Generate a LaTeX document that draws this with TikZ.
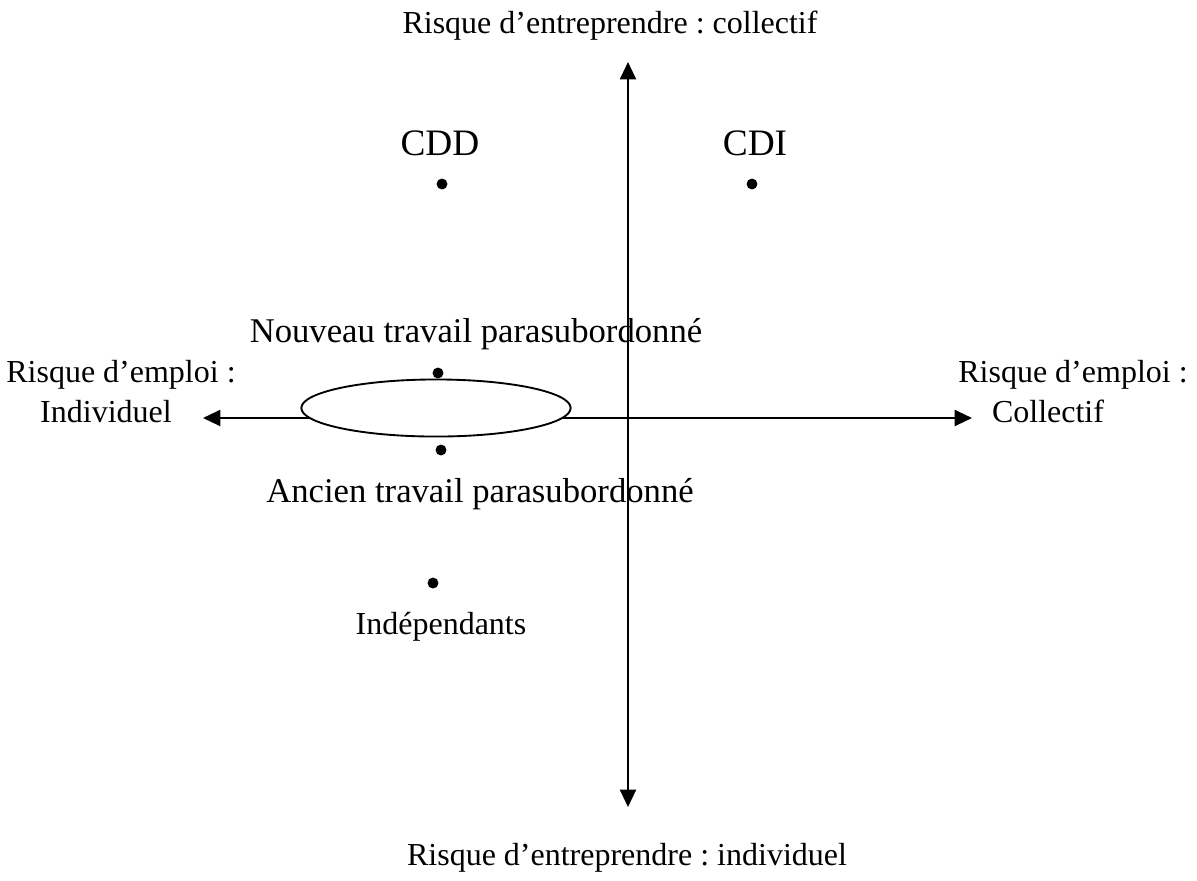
\documentclass[tikz,border=0pt]{standalone}
\usepackage{fontspec}
\setmainfont{Liberation Serif}
\usetikzlibrary{arrows.meta,shapes.geometric}
\frenchspacing
\begin{document}
\begin{tikzpicture}[x=0.375pt,y=-0.375pt,
  font=\fontsize{12}{14}\selectfont,
  axis/.style={line width=0.8pt,{Triangle[length=6.5pt,width=6pt]}-{Triangle[length=6.5pt,width=6pt]}},
  dot/.style={circle,fill=black,inner sep=0pt,minimum size=4.1pt},
  lbl/.style={inner sep=0pt,anchor=base},
  mid/.style={lbl,font=\fontsize{13}{15}\selectfont},
  big/.style={lbl,font=\fontsize{14}{17}\selectfont},
  oval/.style={ellipse,draw,line width=0.7pt,fill=white,inner sep=0pt,minimum width=101pt,minimum height=21.4pt}]
\useasboundingbox (0,0) rectangle (1197,880);
\coordinate (top) at (628,62);
\coordinate (bottom) at (628,807);
\coordinate (left) at (203,418);
\coordinate (right) at (972,418);
\draw[axis] (bottom) -- (top);
\draw[axis] (left) -- (right);
\node[oval] (ov) at (436,408) {};
\node[lbl] (tt) at (610,33) {Risque d’entreprendre : collectif};
\node[lbl] (tb) at (627,865) {Risque d’entreprendre : individuel};
\node[lbl] (tl1) at (121,382) {Risque d’emploi :};
\node[lbl] (tl2) at (106,422) {Individuel};
\node[lbl] (tr1) at (1073,382) {Risque d’emploi :};
\node[lbl] (tr2) at (1048,422) {Collectif};
\node[big] (cdd) at (440,155) {CDD};
\node[dot] (dcdd) at (442,184) {};
\node[big] (cdi) at (755,155) {CDI};
\node[dot] (dcdi) at (752,184) {};
\node[mid] (nouv) at (476,342) {Nouveau travail parasubordonné};
\node[dot] (dnouv) at (438,373) {};
\node[dot] (danc) at (441,450) {};
\node[mid] (anc) at (480,502) {Ancien travail parasubordonné};
\node[dot] (dind) at (433,583) {};
\node[lbl] (ind) at (441,634) {Indépendants};
\end{tikzpicture}
\end{document}
